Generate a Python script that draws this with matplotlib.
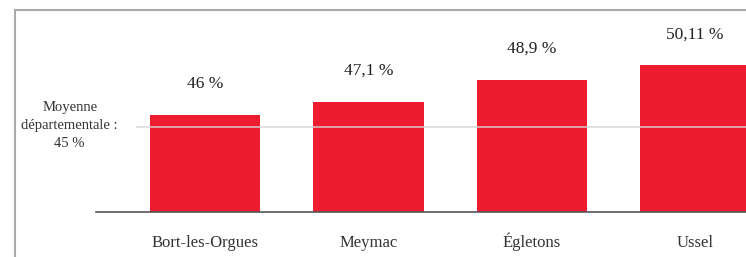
import matplotlib.pyplot as plt
from matplotlib.lines import Line2D

communes = ["Bort-les-Orgues", "Meymac", "Égletons", "Ussel"]
taux = [46, 47.1, 48.9, 50.11]
etiquettes = ["46 %", "47,1 %", "48,9 %", "50,11 %"]
moyenne = 45
moyenne_texte = "Moyenne\ndépartementale :\n45 %"

plt.rcParams["font.family"] = ["Liberation Serif", "DejaVu Serif"]

W, H = 746, 257
fig = plt.figure(figsize=(W / 100, H / 100), dpi=100)
ax = fig.add_axes([96 / W, (H - 212) / H, (746 - 96) / W, (212 - 10) / H])

x = range(len(communes))
ax.bar(x, taux, width=0.675, color="#ED1C2E", zorder=2)
ax.set_xlim(-0.669, 3.313)
ax.set_ylim(38.05, 54.6)

# reference line drawn over the bars
ax.axhline(moyenne, xmin=(137 - 96) / (746 - 96), color="#d6d6d6", lw=1.2, alpha=0.85, zorder=3)
ax.text(-0.83, moyenne + 0.1, moyenne_texte, ha="center", va="center", fontsize=10.5,
        color="#333333", linespacing=1.5)

for xi, v, t in zip(x, taux, etiquettes):
    ax.annotate(t, (xi, v), xytext=(0, 22), textcoords="offset points",
                ha="center", va="center", fontsize=12.5, color="#222222")

ax.set_xticks(list(x))
ax.set_xticklabels(communes, fontsize=12, color="#333333")
for lbl in ax.get_xticklabels():
    lbl.set_verticalalignment("baseline")
ax.tick_params(axis="x", length=0, pad=25)
ax.set_yticks([])
for s in ["top", "right", "left"]:
    ax.spines[s].set_visible(False)
ax.spines["bottom"].set_color("#555555")
ax.spines["bottom"].set_linewidth(1.2)

# outer frame (left and top)
fig.add_artist(Line2D([14.5 / W, 14.5 / W], [0, 1 - 10 / H], color="#aaaaaa", lw=1.5))
fig.add_artist(Line2D([14.5 / W, 1], [1 - 10 / H, 1 - 10 / H], color="#aaaaaa", lw=1.5))

fig.savefig("out.png", dpi=100)
